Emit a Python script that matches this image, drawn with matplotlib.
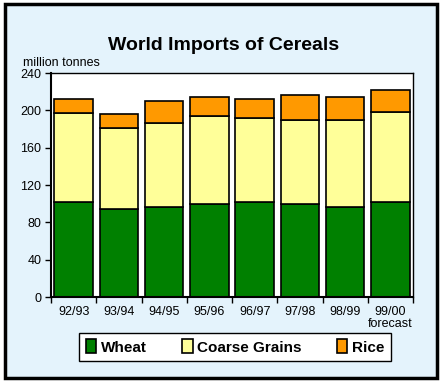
import matplotlib
matplotlib.use("Agg")
import matplotlib.pyplot as plt
from matplotlib.patches import Rectangle
import numpy as np

plt.rcParams["font.family"] = ["Liberation Sans", "DejaVu Sans"]

categories = ["92/93", "93/94", "94/95", "95/96", "96/97", "97/98", "98/99", "99/00\nforecast"]
wheat = [101.5, 94.3, 96.4, 99.3, 101.5, 99.3, 96.4, 101.5]
coarse = [95.3, 86.4, 90.4, 94.6, 89.9, 90.0, 92.9, 97.1]
rice = [15.0, 15.0, 23.2, 20.1, 20.4, 26.8, 24.7, 23.2]
series_names = ["Wheat", "Coarse Grains", "Rice"]
colors = ["#008000", "#ffff99", "#ff9900"]
yticks = [0, 40, 80, 120, 160, 200, 240]

W, H = 442, 381
fig = plt.figure(figsize=(W / 100, H / 100), dpi=100)
fig.patch.set_facecolor("white")

# background panel with border
bg = Rectangle((5 / W, 1 - 378 / H), 432 / W, 374 / H, transform=fig.transFigure,
               facecolor="#e4f3fc", edgecolor="black", linewidth=2.5, zorder=-5)
fig.patches.append(bg)

ax = fig.add_axes([51 / W, 1 - 297 / H, 362 / W, 224 / H])
ax.set_zorder(2)
ax.set_facecolor("white")

x = np.arange(len(categories))
bw = 0.85
bottom = np.zeros(len(categories))
for vals, name, c in zip([wheat, coarse, rice], series_names, colors):
    ax.bar(x, vals, bw, bottom=bottom, color=c, edgecolor="black", linewidth=1.2,
           label=name, zorder=2)
    bottom += np.array(vals)

ax.set_xlim(-0.5, len(categories) - 0.5)
ax.set_ylim(0, 240)
ax.set_yticks(yticks)
ax.set_yticklabels([str(v) for v in yticks], fontsize=9)
ax.tick_params(axis="y", direction="out", length=4, width=1, pad=3)

ax.set_xticks(np.arange(-0.5, len(categories), 1.0))
ax.set_xticklabels([])
ax.tick_params(axis="x", direction="out", length=4, width=1)
for i, lab in enumerate(categories):
    ax.text(i, -10, lab, ha="center", va="top", fontsize=9, linespacing=0.95,
            transform=ax.transData, clip_on=False)

for s in ["left", "bottom"]:
    ax.spines[s].set_linewidth(1.5)
for s in ["top", "right"]:
    ax.spines[s].set_linewidth(1.0)

fig.text(224 / W, 1 - 46 / H, "World Imports of Cereals", ha="center", va="center",
         fontsize=14, fontweight="bold")
fig.text(23 / W, 1 - 63 / H, "million tonnes", ha="left", va="center", fontsize=9)

leg = fig.legend(loc="center", bbox_to_anchor=(235 / W, 1 - 347 / H), ncol=3,
                 frameon=True, fancybox=False, edgecolor="black", framealpha=1,
                 prop={"weight": "bold", "size": 11}, handlelength=0.7, handleheight=1.0,
                 handletextpad=0.3, columnspacing=2.3, borderpad=0.45)
leg.get_frame().set_linewidth(1.0)
leg.set_zorder(3)

fig.savefig("out.png", dpi=100)
